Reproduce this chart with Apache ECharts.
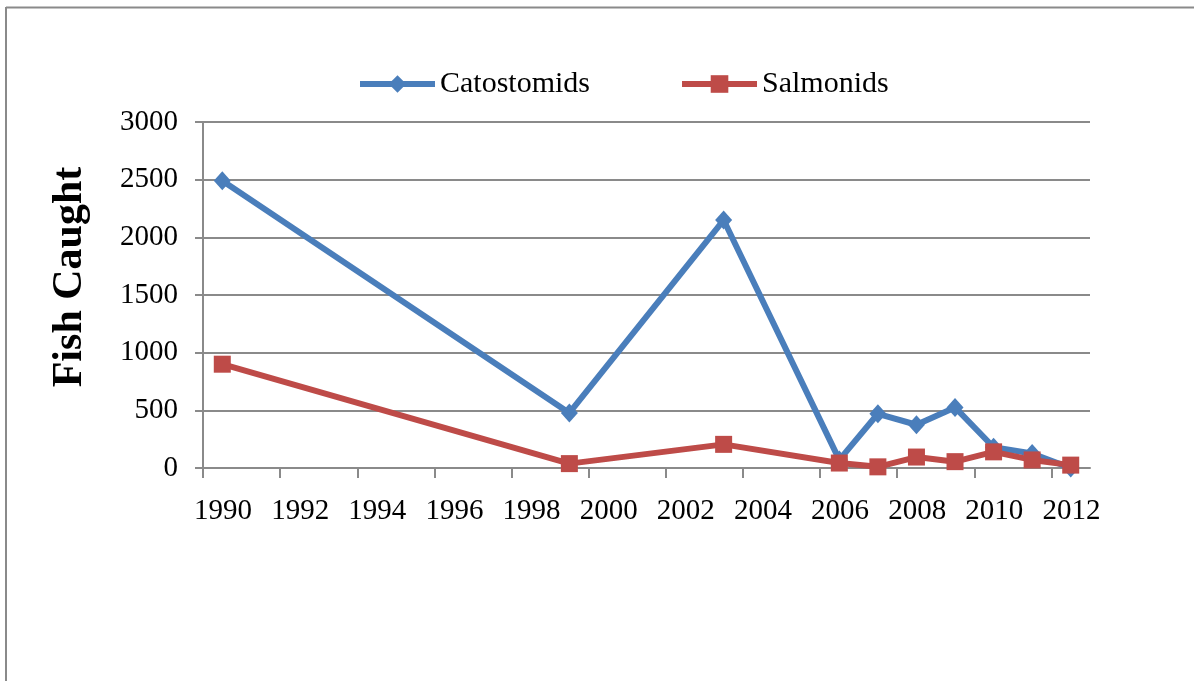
<!DOCTYPE html>
<html>
<head>
<meta charset="utf-8">
<script src="https://cdn.jsdelivr.net/npm/echarts@6/dist/echarts.min.js"></script>
<style>
  html, body { margin: 0; padding: 0; background: #fff; }
  #main { width: 1194px; height: 681px; }
</style>
</head>
<body>
<div id="main"></div>
<script>
// sampling years (points sit mid-year)
var years = [1990.5, 1999.5, 2003.5, 2006.5, 2007.5, 2008.5, 2009.5, 2010.5, 2011.5, 2012.5];
var catostomids = [2490, 477, 2150, 70, 470, 375, 525, 180, 125, 0];
var salmonids = [900, 38, 205, 43, 10, 95, 55, 140, 70, 25];
var xTicks = [1990, 1992, 1994, 1996, 1998, 2000, 2002, 2004, 2006, 2008, 2010, 2012];
var yTicks = [0, 500, 1000, 1500, 2000, 2500, 3000];

var pairs = function(xs, ys) {
    return xs.map(function(x, i) { return [x, ys[i]]; });
};

var font = 'Liberation Serif, Times New Roman, serif';
var gridColor = '#8a8a8a';

var chart = echarts.init(document.getElementById('main'));

var option = {
    backgroundColor: '#fff',
    animation: false,
    graphic: [
        { type: 'line', shape: { x1: 6, y1: 7.5, x2: 1194, y2: 7.5 }, style: { stroke: '#8a8a8a', lineWidth: 2 } },
        { type: 'line', shape: { x1: 6, y1: 7, x2: 6, y2: 681 }, style: { stroke: '#8a8a8a', lineWidth: 2 } }
    ],
    legend: {
        left: 352,
        top: 64,
        itemWidth: 75,
        itemHeight: 22,
        itemGap: 89,
        lineStyle: { width: 6 },
        textStyle: { fontFamily: font, fontSize: 30, color: '#000' },
        data: ['Catostomids', 'Salmonids']
    },
    grid: { left: 203, right: 104, top: 122, bottom: 213 },
    xAxis: {
        type: 'value',
        min: 1990,
        max: 2013,
        interval: 2,
        splitLine: { show: false },
        axisLine: { show: true, lineStyle: { color: gridColor, width: 2 } },
        axisTick: { show: true, length: 10, customValues: xTicks, lineStyle: { color: gridColor, width: 2 } },
        axisLabel: {
            customValues: xTicks,
            margin: 29,
            padding: [0, 0, 0, 40],
            fontFamily: font, fontSize: 29, color: '#000',
            formatter: function(v) { return String(v); }
        }
    },
    yAxis: {
        type: 'value',
        min: 0,
        max: 3000,
        interval: 500,
        name: 'Fish Caught',
        nameLocation: 'middle',
        nameGap: 112,
        nameRotate: 90,
        nameTextStyle: { fontFamily: font, fontSize: 42, fontWeight: 'bold', color: '#000', padding: [0, 0, 0, 36] },
        axisLine: { show: true, lineStyle: { color: gridColor, width: 2 } },
        axisTick: { show: true, length: 8, lineStyle: { color: gridColor, width: 2 } },
        splitLine: { show: true, lineStyle: { color: gridColor, width: 2 } },
        axisLabel: {
            customValues: yTicks,
            margin: 25, fontFamily: font, fontSize: 29, color: '#000',
            formatter: function(v) { return String(v); }
        }
    },
    series: [
        {
            name: 'Catostomids',
            type: 'line',
            data: pairs(years, catostomids),
            symbol: 'diamond',
            symbolSize: [17, 19],
            lineStyle: { color: '#4A7EBB', width: 6 },
            itemStyle: { color: '#4A7EBB' },
            z: 2
        },
        {
            name: 'Salmonids',
            type: 'line',
            data: pairs(years, salmonids),
            symbol: 'rect',
            symbolSize: 17,
            lineStyle: { color: '#BE4B48', width: 6 },
            itemStyle: { color: '#BE4B48' },
            z: 3
        }
    ]
};

chart.setOption(option);
</script>
</body>
</html>
